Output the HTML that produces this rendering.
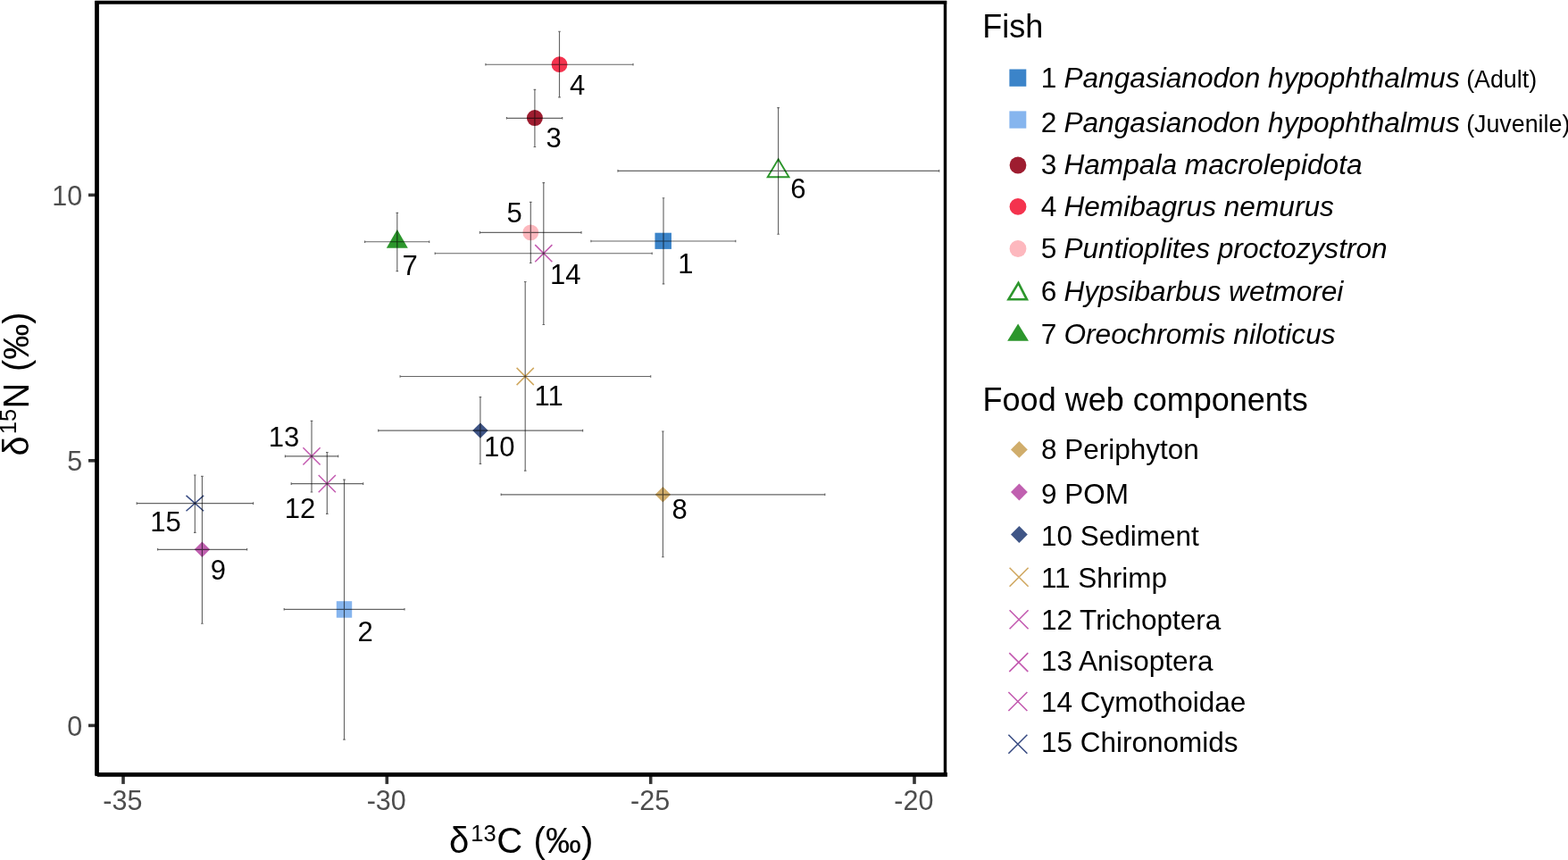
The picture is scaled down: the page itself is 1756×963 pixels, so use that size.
<!DOCTYPE html>
<html lang="en"><head><meta charset="utf-8"><title>Stable isotope biplot</title>
<style>
html,body{margin:0;padding:0;background:#fff;}
body{width:1756px;height:963px;overflow:hidden;font-family:"Liberation Sans", sans-serif;}
svg{display:block;}
svg text{font-family:"Liberation Sans", sans-serif;white-space:pre;}
.tk{font-size:30.5px;fill:#4d4d4d;}
.lb{font-size:31px;fill:#000;}
.ax{font-size:40px;fill:#000;}
.sup{font-size:25.5px;}
.lt{font-size:36px;fill:#000;}
.li{font-size:31.65px;fill:#000;}
.lf{font-size:31.5px;fill:#000;}
.it{font-style:italic;}
.sm{font-size:26.8px;font-style:normal;}
</style></head><body>
<svg width="1756" height="963" viewBox="0 0 1756 963" role="img" aria-label="Stable isotope biplot of fish and food web components">
<rect x="0" y="0" width="1756" height="963" fill="#fff"/>
<g id="points">
<rect x="733.45" y="260.70" width="18.50" height="18.20" fill="#3b84c9"/>
<rect x="376.80" y="673.20" width="17.40" height="18.50" fill="#86b5ee"/>
<circle cx="598.90" cy="132.10" r="9.00" fill="#9e1d30"/>
<circle cx="626.50" cy="72.20" r="8.90" fill="#f4334e"/>
<circle cx="594.30" cy="260.40" r="8.90" fill="#fdb8be"/>
<polygon points="871.60,178.30 883.50,198.30 859.70,198.30" fill="none" stroke="#2c962c" stroke-width="1.9" stroke-linejoin="miter"/>
<polygon points="444.80,256.90 456.80,277.70 432.80,277.70" fill="#2c962c"/>
<polygon points="742.40,545.10 751.10,553.80 742.40,562.50 733.70,553.80" fill="#d0ad6b"/>
<polygon points="226.40,606.60 235.10,615.30 226.40,624.00 217.70,615.30" fill="#c060b0"/>
<polygon points="537.90,473.40 546.60,482.10 537.90,490.80 529.20,482.10" fill="#3f5586"/>
<path d="M578.60 411.90L597.80 431.10M578.60 431.10L597.80 411.90" stroke="#d0a860" stroke-width="1.5" fill="none"/>
<path d="M356.70 532.00L375.90 551.20M356.70 551.20L375.90 532.00" stroke="#c35ab0" stroke-width="1.5" fill="none"/>
<path d="M339.40 501.30L358.60 520.50M339.40 520.50L358.60 501.30" stroke="#c35ab0" stroke-width="1.5" fill="none"/>
<path d="M599.20 274.10L618.40 293.30M599.20 293.30L618.40 274.10" stroke="#c35ab0" stroke-width="1.5" fill="none"/>
<path d="M208.50 554.90L228.10 572.30M208.50 572.30L228.10 554.90" stroke="#3a4d84" stroke-width="1.5" fill="none"/>
</g>
<g id="errorbars" stroke="#000" stroke-opacity="0.6" stroke-width="1.15" fill="none">
<path d="M661.90 269.95H823.80M661.90 268.65V271.25M823.80 268.65V271.25M743.00 221.70V317.80M741.70 221.70H744.30M741.70 317.80H744.30"/>
<path d="M318.20 682.30H453.00M318.20 681.00V683.60M453.00 681.00V683.60M385.50 537.10V828.10M384.20 537.10H386.80M384.20 828.10H386.80"/>
<path d="M567.40 132.30H629.70M567.40 131.00V133.60M629.70 131.00V133.60M598.90 100.30V164.50M597.60 100.30H600.20M597.60 164.50H600.20"/>
<path d="M543.90 72.20H709.00M543.90 70.90V73.50M709.00 70.90V73.50M626.50 35.20V108.90M625.20 35.20H627.80M625.20 108.90H627.80"/>
<path d="M537.40 260.40H651.00M537.40 259.10V261.70M651.00 259.10V261.70M594.30 226.30V294.50M593.00 226.30H595.60M593.00 294.50H595.60"/>
<path d="M692.00 191.40H1051.70M692.00 190.10V192.70M1051.70 190.10V192.70M871.60 120.60V262.20M870.30 120.60H872.90M870.30 262.20H872.90"/>
<path d="M408.60 270.70H480.70M408.60 269.40V272.00M480.70 269.40V272.00M444.80 238.30V303.60M443.50 238.30H446.10M443.50 303.60H446.10"/>
<path d="M561.20 553.80H923.80M561.20 552.50V555.10M923.80 552.50V555.10M742.40 483.00V623.70M741.10 483.00H743.70M741.10 623.70H743.70"/>
<path d="M176.60 615.30H276.60M176.60 614.00V616.60M276.60 614.00V616.60M226.40 533.40V698.20M225.10 533.40H227.70M225.10 698.20H227.70"/>
<path d="M423.70 482.10H652.60M423.70 480.80V483.40M652.60 480.80V483.40M537.90 444.60V519.30M536.60 444.60H539.20M536.60 519.30H539.20"/>
<path d="M448.10 421.50H728.70M448.10 420.20V422.80M728.70 420.20V422.80M588.20 315.50V527.10M586.90 315.50H589.50M586.90 527.10H589.50"/>
<path d="M326.20 541.60H406.70M326.20 540.30V542.90M406.70 540.30V542.90M366.30 506.50V575.30M365.00 506.50H367.60M365.00 575.30H367.60"/>
<path d="M319.40 510.90H378.70M319.40 509.60V512.20M378.70 509.60V512.20M349.00 471.40V551.00M347.70 471.40H350.30M347.70 551.00H350.30"/>
<path d="M487.20 283.70H730.20M487.20 282.40V285.00M730.20 282.40V285.00M608.80 204.60V363.50M607.50 204.60H610.10M607.50 363.50H610.10"/>
<path d="M153.20 563.60H283.60M153.20 562.30V564.90M283.60 562.30V564.90M218.30 532.00V596.40M217.00 532.00H219.60M217.00 596.40H219.60"/>
</g>
<g id="labels" class="lb">
<text transform="translate(759.20 305.60) scale(1 1)">1</text>
<text transform="translate(400.40 717.60) scale(1 1)">2</text>
<text transform="translate(611.50 165.30) scale(1 1)">3</text>
<text transform="translate(638.00 106.20) scale(1 1)">4</text>
<text transform="translate(567.40 248.50) scale(1 1)">5</text>
<text transform="translate(885.20 222.40) scale(1 1)">6</text>
<text transform="translate(450.60 308.00) scale(1 1)">7</text>
<text transform="translate(752.40 580.90) scale(1 1)">8</text>
<text transform="translate(235.70 649.00) scale(1 1)">9</text>
<text transform="translate(542.00 511.00) scale(1 1)">10</text>
<text transform="translate(598.50 454.20) scale(1 1)">11</text>
<text transform="translate(318.70 579.50) scale(1 1)">12</text>
<text transform="translate(300.80 499.50) scale(1 1)">13</text>
<text transform="translate(616.00 317.60) scale(1 1)">14</text>
<text transform="translate(168.30 594.80) scale(1 1)">15</text>
</g>
<g id="ticks" stroke="#333" stroke-width="3.6" fill="none">
<path d="M138.00 868V877.9"/>
<path d="M433.30 868V877.9"/>
<path d="M728.70 868V877.9"/>
<path d="M1024.00 868V877.9"/>
<path d="M99 218.40H108"/>
<path d="M99 515.80H108"/>
<path d="M99 812.40H108"/>
</g>
<g id="frame" fill="none" stroke="#000">
<rect x="108.5" y="2.68" width="950" height="864.69" stroke-width="3.45"/>
<path d="M106.2 2.6H1060.2" stroke-width="3.6"/>
<path d="M108.5 0.9V868.6" stroke-width="4.75"/>
<path d="M108.9 867.37H1060.9" stroke-width="4.8"/>
</g>
<g id="ticklabels" class="tk">
<text transform="translate(137.40 906.60) scale(1 1.043)" text-anchor="middle">-35</text>
<text transform="translate(432.70 906.60) scale(1 1.043)" text-anchor="middle">-30</text>
<text transform="translate(728.10 906.60) scale(1 1.043)" text-anchor="middle">-25</text>
<text transform="translate(1023.40 906.60) scale(1 1.043)" text-anchor="middle">-20</text>
<text transform="translate(92.20 229.70) scale(1 1.043)" text-anchor="end">10</text>
<text transform="translate(92.20 526.90) scale(1 1.043)" text-anchor="end">5</text>
<text transform="translate(92.20 823.70) scale(1 1.043)" text-anchor="end">0</text>
</g>
<text class="ax" transform="translate(503.0 955.1)"><tspan x="0">δ</tspan><tspan class="sup" x="24.3" dy="-13.40">13</tspan><tspan x="53.2" dy="13.40">C</tspan><tspan x="83.5"> (‰)</tspan></text>
<text class="ax" transform="translate(31.8 510.6) rotate(-90)"><tspan x="0">δ</tspan><tspan class="sup" x="24.3" dy="-13.40">15</tspan><tspan x="53.2" dy="13.40">N</tspan><tspan x="83.5"> (‰)</tspan></text>
<g id="legend">
<text class="lt" x="1100.3" y="42.0">Fish</text>
<text class="lt" x="1100.6" y="460.3">Food web components</text>
<rect x="1130.4" y="77.50" width="18.9" height="19.3" fill="#3b84c9"/>
<text class="li" x="1165.8" y="98.0">1 <tspan class="it" dx="-0.8">Pangasianodon hypophthalmus</tspan><tspan class="sm"> (Adult)</tspan></text>
<rect x="1130.4" y="124.40" width="18.9" height="19.3" fill="#86b5ee"/>
<text class="li" x="1165.8" y="147.7">2 <tspan class="it" dx="-0.8">Pangasianodon hypophthalmus</tspan><tspan class="sm"> (Juvenile)</tspan></text>
<circle cx="1140.0" cy="185.0" r="9.4" fill="#9e1d30"/>
<text class="li" x="1165.8" y="194.8">3 <tspan class="it" dx="-0.8">Hampala macrolepidota</tspan></text>
<circle cx="1140.0" cy="231.4" r="9.4" fill="#f4334e"/>
<text class="li" x="1165.8" y="242.3">4 <tspan class="it" dx="-0.8">Hemibagrus nemurus</tspan></text>
<circle cx="1140.0" cy="278.5" r="9.4" fill="#fdb8be"/>
<text class="li" x="1165.8" y="289.1">5 <tspan class="it" dx="-0.8">Puntioplites proctozystron</tspan></text>
<polygon points="1140.50,316.95 1149.95,335.30 1129.45,335.30" fill="none" stroke="#2c962c" stroke-width="2.6" stroke-linejoin="miter"/>
<text class="li" x="1165.8" y="337.1">6 <tspan class="it" dx="-0.8">Hypsibarbus wetmorei</tspan></text>
<polygon points="1140.10,362.40 1152.00,381.80 1128.20,381.80" fill="#2c962c"/>
<text class="li" x="1165.8" y="384.9">7 <tspan class="it" dx="-0.8">Oreochromis niloticus</tspan></text>
<polygon points="1141.40,494.00 1150.80,503.40 1141.40,512.80 1132.00,503.40" fill="#d0ad6b"/>
<text class="lf" x="1165.9" y="513.7">8 Periphyton</text>
<polygon points="1141.40,541.60 1150.80,551.00 1141.40,560.40 1132.00,551.00" fill="#c060b0"/>
<text class="lf" x="1165.9" y="563.7">9 POM</text>
<polygon points="1141.40,589.10 1150.80,598.50 1141.40,607.90 1132.00,598.50" fill="#3f5586"/>
<text class="lf" x="1165.9" y="610.5">10 Sediment</text>
<path d="M1130.60 635.80L1151.60 656.80M1130.60 656.80L1151.60 635.80" stroke="#d0a860" stroke-width="1.6" fill="none"/>
<text class="lf" x="1165.9" y="658.0">11 Shrimp</text>
<path d="M1130.60 683.30L1151.60 704.30M1130.60 704.30L1151.60 683.30" stroke="#c35ab0" stroke-width="1.6" fill="none"/>
<text class="lf" x="1165.9" y="705.1">12 Trichoptera</text>
<path d="M1130.30 731.10L1151.30 752.10M1130.30 752.10L1151.30 731.10" stroke="#c35ab0" stroke-width="1.6" fill="none"/>
<text class="lf" x="1165.9" y="751.0">13 Anisoptera</text>
<path d="M1129.40 775.00L1150.40 796.00M1129.40 796.00L1150.40 775.00" stroke="#c35ab0" stroke-width="1.6" fill="none"/>
<text class="lf" x="1165.9" y="797.1">14 Cymothoidae</text>
<path d="M1129.40 822.70L1150.40 843.70M1129.40 843.70L1150.40 822.70" stroke="#3a4d84" stroke-width="1.6" fill="none"/>
<text class="lf" x="1165.9" y="842.0">15 Chironomids</text>
</g>
</svg>
</body></html>
